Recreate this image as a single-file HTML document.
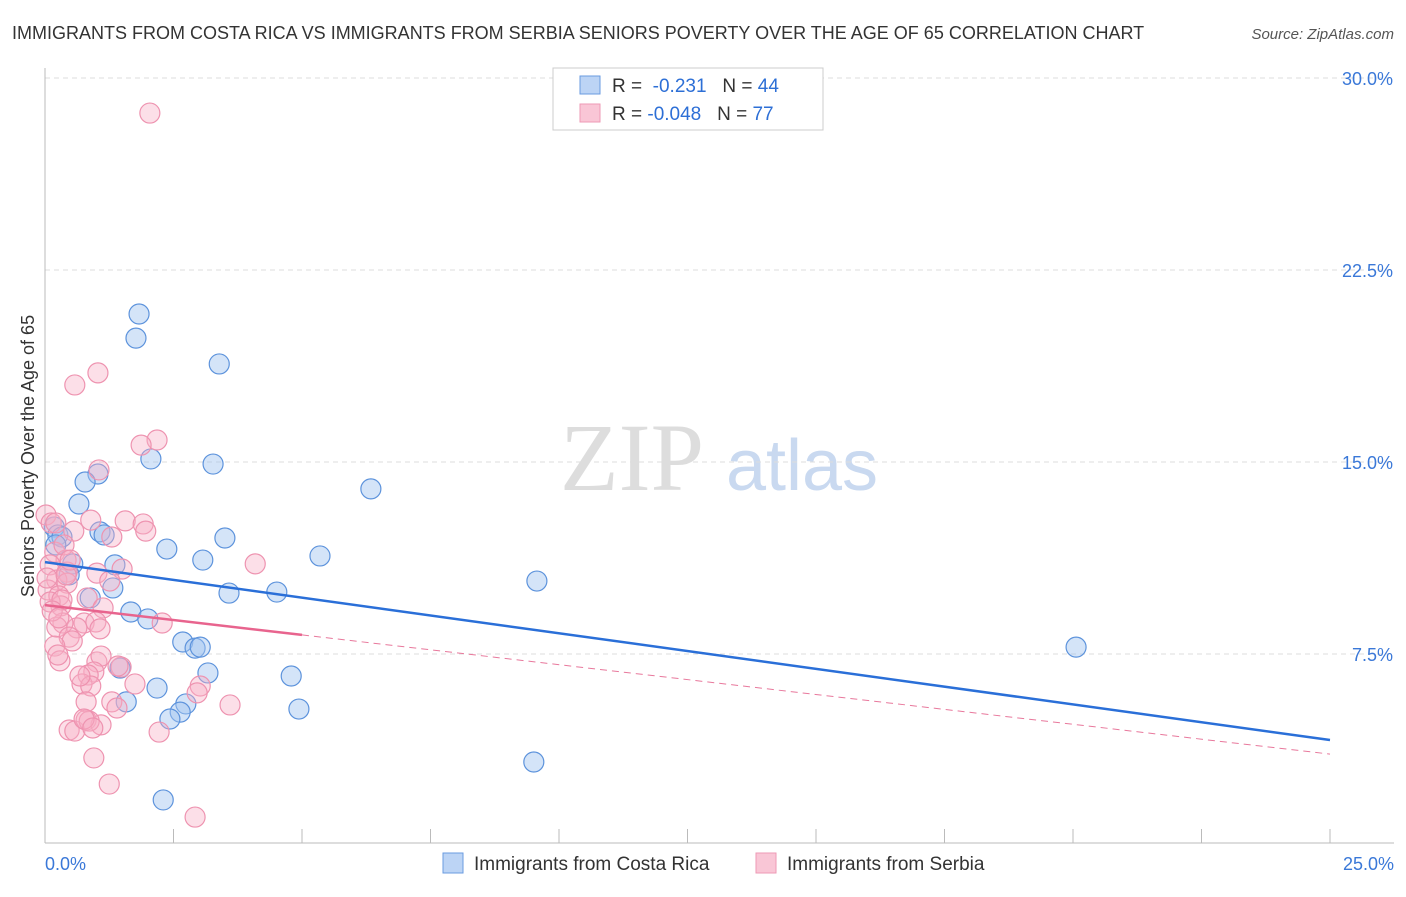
<!DOCTYPE html>
<html><head><meta charset="utf-8"><style>
body{margin:0;background:#fff;font-family:"Liberation Sans",sans-serif}
</style></head><body>
<svg id="chart" width="1406" height="892" xmlns="http://www.w3.org/2000/svg" font-family="Liberation Sans, sans-serif">
<text x="12" y="39" font-size="18" fill="#333">IMMIGRANTS FROM COSTA RICA VS IMMIGRANTS FROM SERBIA SENIORS POVERTY OVER THE AGE OF 65 CORRELATION CHART</text>
<text x="1394" y="39" font-size="15" fill="#555" text-anchor="end" font-style="italic">Source: ZipAtlas.com</text>
<g>
<text x="632" y="490" font-size="96" fill="#ddd" font-family="Liberation Serif, serif" text-anchor="middle">ZIP</text>
<text x="802" y="490" font-size="72" fill="#c9d9f0" text-anchor="middle">atlas</text>
</g>
<g id="grid"></g>
<g id="axes"></g>
<g id="marks"></g>
<g>
<rect x="553" y="68" width="270" height="62" fill="#fff" stroke="#ccc"/>
<rect x="580" y="76" width="20" height="18" fill="#bcd4f5" stroke="#6a9be0"/>
<rect x="580" y="104" width="20" height="18" fill="#f9c6d6" stroke="#ee9ab5"/>
<text x="612" y="92" font-size="19" fill="#333">R = <tspan fill="#2d6fd6">&#160;-0.231</tspan>&#160;&#160;&#160;N = <tspan fill="#2d6fd6">44</tspan></text>
<text x="612" y="120" font-size="19" fill="#333">R = <tspan fill="#2d6fd6">-0.048</tspan>&#160;&#160;&#160;N = <tspan fill="#2d6fd6">77</tspan></text>
</g>
<g>
<rect x="443" y="853" width="20" height="20" fill="#bcd4f5" stroke="#6a9be0"/>
<text x="474" y="870" font-size="19" fill="#333">Immigrants from Costa Rica</text>
<rect x="756" y="853" width="20" height="20" fill="#f9c6d6" stroke="#ee9ab5"/>
<text x="787" y="870" font-size="19" fill="#333">Immigrants from Serbia</text>
</g>
<text transform="translate(34,456) rotate(-90)" font-size="18" fill="#333" text-anchor="middle">Seniors Poverty Over the Age of 65</text>
</svg>
<script>
const blueX=[1.83,1.77,3.39,2.06,3.27,1.03,0.78,0.66,6.34,0.18,0.25,0.33,1.07,1.15,0.21,3.50,2.37,5.35,3.07,0.54,1.36,0.47,9.57,1.32,3.58,4.51,0.88,1.67,2.00,2.68,2.92,3.02,20.06,3.17,1.46,4.79,2.18,1.58,2.74,2.63,2.43,4.94,9.51,2.30];
const blueY=[20.78,19.84,18.83,15.12,14.92,14.53,14.22,13.36,13.95,12.46,12.15,12.07,12.27,12.15,11.76,12.03,11.60,11.33,11.17,11.02,10.98,10.59,10.35,10.08,9.88,9.92,9.69,9.14,8.87,7.97,7.73,7.77,7.77,6.76,6.95,6.64,6.17,5.63,5.55,5.23,4.96,5.35,3.28,1.80];
const pinkX=[2.04,1.03,0.58,2.18,1.87,1.05,0.02,0.89,1.56,1.91,1.96,0.56,0.12,0.21,1.30,0.19,4.09,0.41,0.10,0.43,1.01,1.50,1.26,0.23,0.43,0.06,0.27,0.31,0.82,1.13,0.10,0.76,0.99,1.07,0.62,0.35,0.23,0.47,0.53,2.28,0.19,0.29,0.25,1.01,1.09,0.95,0.84,0.72,0.89,1.75,0.68,1.48,1.42,3.02,2.96,1.30,1.40,0.80,3.60,0.47,0.58,0.80,1.09,0.86,0.76,0.93,2.22,0.95,1.25,2.92,0.33,0.14,0.37,0.04,0.41,0.49,0.27];
const pinkY=[28.63,18.48,18.01,15.86,15.66,14.69,12.93,12.73,12.70,12.58,12.30,12.30,12.62,12.62,12.07,11.48,11.02,11.17,10.98,10.70,10.66,10.82,10.35,10.39,10.27,10.00,9.77,9.38,9.69,9.30,9.53,8.71,8.75,8.48,8.52,8.71,8.55,8.16,8.01,8.71,7.81,7.23,7.46,7.19,7.42,6.80,6.68,6.33,6.25,6.33,6.64,6.99,7.03,6.25,5.98,5.63,5.39,5.63,5.51,4.53,4.49,4.92,4.73,4.88,4.96,4.61,4.45,3.44,2.42,1.13,9.61,9.18,11.76,10.47,10.59,11.17,8.91];
const blueTrend=[11.09,4.14];
const pinkTrend=[9.41,3.59];
const pinkSolidEnd=5;
const yTicks=[7.5,15,22.5,30];
const yTickLabels=["7.5%","15.0%","22.5%","30.0%"];
const xTicks=[0,2.5,5,7.5,10,12.5,15,17.5,20,22.5,25];
const xTickLabels=["0.0%","25.0%"];
const NS="http://www.w3.org/2000/svg";
const sx=v=>45+v*51.4, sy=v=>846-v*25.6;
function mk(tag,attrs,parent){const e=document.createElementNS(NS,tag);for(const k in attrs)e.setAttribute(k,attrs[k]);document.getElementById(parent).appendChild(e);return e;}
yTicks.forEach((t,i)=>{
 const g=mk('line',{x1:45,x2:1394,y1:sy(t),y2:sy(t),stroke:'#ddd','stroke-dasharray':'5,4'},'grid');
 
 
 const l=mk('text',{x:1393,y:sy(t)+7,'font-size':18,fill:'#3a78d8','text-anchor':'end'},'axes');
 l.textContent=yTickLabels[i];
 
 
});
const ya=mk('line',{x1:45,x2:45,y1:68,y2:843,stroke:'#bbb'},'axes');


const xa=mk('line',{x1:45,x2:1394,y1:843,y2:843,stroke:'#bbb'},'axes');


xTicks.forEach(t=>{
 const k=mk('line',{x1:sx(t),x2:sx(t),y1:829,y2:843,stroke:'#bbb'},'axes');
 
 
});
const xl0=mk('text',{x:45,y:870,'font-size':18,fill:'#3a78d8'},'axes');xl0.textContent=xTickLabels[0];


const xl1=mk('text',{x:1394,y:870,'font-size':18,fill:'#3a78d8','text-anchor':'end'},'axes');xl1.textContent=xTickLabels[1];


blueX.forEach((x,i)=>{
 const c=mk('circle',{cx:sx(x),cy:sy(blueY[i]),r:10,fill:'rgba(160,195,240,0.45)',stroke:'#5d93dc','stroke-width':1.2},'marks');
 
 
});
pinkX.forEach((x,i)=>{
 const c=mk('circle',{cx:sx(x),cy:sy(pinkY[i]),r:10,fill:'rgba(248,175,198,0.4)',stroke:'#ee93b0','stroke-width':1.2},'marks');
 
 
});
const pv=x=>pinkTrend[0]+(pinkTrend[1]-pinkTrend[0])*x/25;
const pd=mk('line',{x1:sx(pinkSolidEnd),y1:sy(pv(pinkSolidEnd)),x2:sx(25),y2:sy(pinkTrend[1]),stroke:'#e8789c','stroke-width':1,'stroke-dasharray':'7,5'},'marks');


const ps=mk('line',{x1:sx(0),y1:sy(pinkTrend[0]),x2:sx(pinkSolidEnd),y2:sy(pv(pinkSolidEnd)),stroke:'#e8648e','stroke-width':2.5},'marks');


const bl=mk('line',{x1:sx(0),y1:sy(blueTrend[0]),x2:sx(25),y2:sy(blueTrend[1]),stroke:'#2a6fd8','stroke-width':2.5},'marks');


</script>
</body></html>
